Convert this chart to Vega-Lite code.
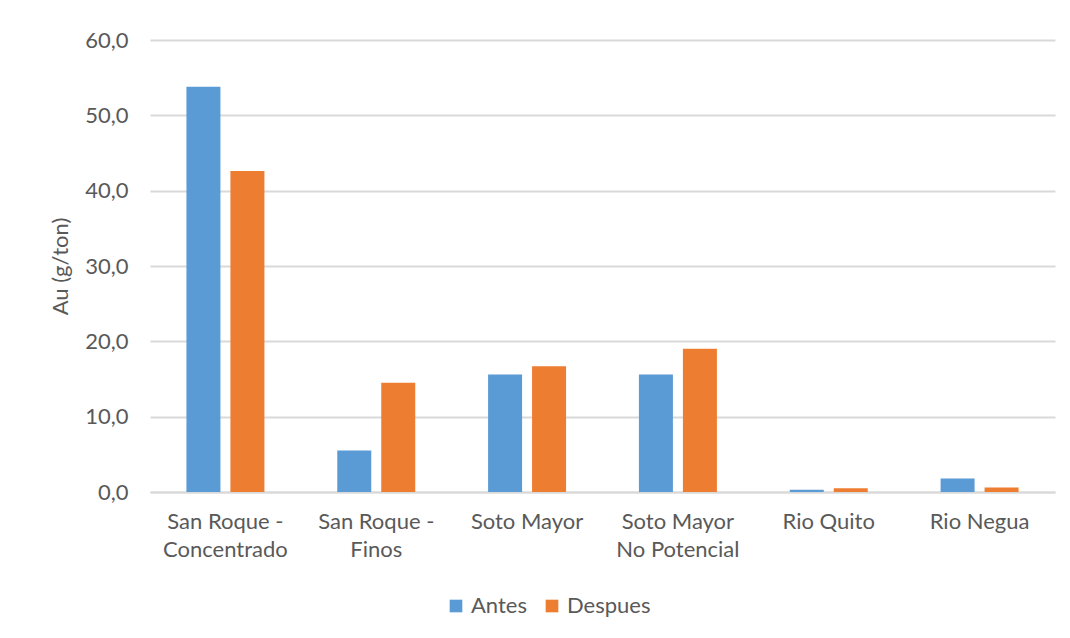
{
  "$schema": "https://vega.github.io/schema/vega-lite/v6.json",
  "autosize": "none",
  "width": 905,
  "height": 452,
  "padding": {"left": 150, "top": 40, "right": 15, "bottom": 146},
  "background": "white",
  "config": {
    "locale": {"number": {"decimal": ",", "thousands": ".", "grouping": [3], "currency": ["", " €"]}},
    "font": "Lato",
    "view": {"stroke": null}
  },
  "data": {
    "values": [
      {"sitio": "San Roque -|Concentrado", "momento": "Antes", "au": 53.8},
      {"sitio": "San Roque -|Concentrado", "momento": "Despues", "au": 42.6},
      {"sitio": "San Roque -|Finos", "momento": "Antes", "au": 5.5},
      {"sitio": "San Roque -|Finos", "momento": "Despues", "au": 14.5},
      {"sitio": "Soto Mayor", "momento": "Antes", "au": 15.6},
      {"sitio": "Soto Mayor", "momento": "Despues", "au": 16.7},
      {"sitio": "Soto Mayor|No Potencial", "momento": "Antes", "au": 15.6},
      {"sitio": "Soto Mayor|No Potencial", "momento": "Despues", "au": 19.0},
      {"sitio": "Rio Quito", "momento": "Antes", "au": 0.3},
      {"sitio": "Rio Quito", "momento": "Despues", "au": 0.5},
      {"sitio": "Rio Negua", "momento": "Antes", "au": 1.8},
      {"sitio": "Rio Negua", "momento": "Despues", "au": 0.6}
    ]
  },
  "mark": {"type": "bar"},
  "encoding": {
    "x": {
      "field": "sitio",
      "type": "nominal",
      "sort": null,
      "scale": {"paddingInner": 0.483, "paddingOuter": 0.2415},
      "axis": {
        "title": null,
        "labelAngle": 0,
        "labelExpr": "split(datum.label, '|')",
        "labelFontSize": 22,
        "labelColor": "#595959",
        "labelPadding": 19,
        "labelLineHeight": 28,
        "ticks": false,
        "domainColor": "#d9d9d9",
        "domainWidth": 2
      }
    },
    "xOffset": {
      "field": "momento",
      "type": "nominal",
      "scale": {"paddingInner": 0.227, "paddingOuter": 0}
    },
    "y": {
      "field": "au",
      "type": "quantitative",
      "scale": {"domain": [0, 60]},
      "axis": {
        "title": "Au (g/ton)",
        "titleFontSize": 22,
        "titleFontWeight": "normal",
        "titleColor": "#595959",
        "titlePadding": 12,
        "values": [0, 10, 20, 30, 40, 50, 60],
        "format": ".1f",
        "labelFontSize": 22,
        "labelColor": "#595959",
        "labelPadding": 22,
        "ticks": false,
        "domain": false,
        "gridColor": "#d9d9d9",
        "gridWidth": 2
      }
    },
    "color": {
      "field": "momento",
      "type": "nominal",
      "scale": {"domain": ["Antes", "Despues"], "range": ["#5b9bd5", "#ed7d31"]},
      "legend": {
        "title": null,
        "orient": "none",
        "direction": "horizontal",
        "legendX": 295,
        "legendY": 555,
        "symbolType": "square",
        "symbolSize": 160,
        "symbolStrokeWidth": 0,
        "labelFontSize": 22,
        "labelColor": "#595959",
        "columnPadding": 14
      }
    }
  }
}
